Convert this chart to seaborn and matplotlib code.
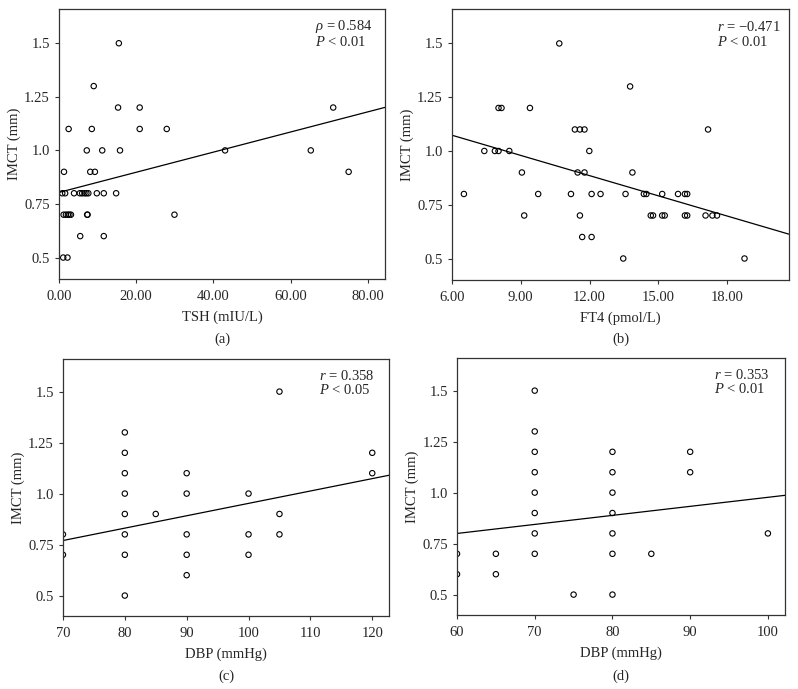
import numpy as np
import pandas as pd
import matplotlib
matplotlib.use("Agg")
import matplotlib.pyplot as plt
import seaborn as sns

# --- data ---
# (a) TSH vs IMCT
tsh = [15.5, 9.0, 15.3, 20.9, 71.0, 2.5, 8.5, 20.9, 27.9,
       7.2, 11.2, 15.8, 43.0, 65.2, 1.3, 8.1, 9.3, 75.0,
       0.85, 1.6, 3.9, 5.4, 6.0, 6.6, 7.1, 7.6, 9.8, 11.6, 14.8,
       1.2, 1.8, 2.3, 2.7, 3.1, 7.3, 7.4, 29.9,
       5.5, 11.6, 1.1, 2.2]
imct_a = [1.5, 1.3, 1.2, 1.2, 1.2, 1.1, 1.1, 1.1, 1.1,
          1.0, 1.0, 1.0, 1.0, 1.0, 0.9, 0.9, 0.9, 0.9,
          0.8, 0.8, 0.8, 0.8, 0.8, 0.8, 0.8, 0.8, 0.8, 0.8, 0.8,
          0.7, 0.7, 0.7, 0.7, 0.7, 0.7, 0.7, 0.7,
          0.6, 0.6, 0.5, 0.5]

# (b) FT4 vs IMCT
ft4 = [10.68, 13.77, 8.03, 8.16, 9.40, 11.36, 11.58, 11.78, 17.17,
       7.41, 7.87, 8.03, 8.50, 11.99, 9.05, 11.48, 11.78, 13.87,
       6.52, 9.76, 11.19, 12.09, 12.48, 13.57, 14.37, 14.48, 15.17, 15.86, 16.16, 16.26,
       9.15, 11.58, 14.67, 14.77, 15.17, 15.28, 16.16, 16.26, 17.06, 17.36, 17.56,
       11.68, 12.09, 13.47, 18.76]
imct_b = [1.5, 1.3, 1.2, 1.2, 1.2, 1.1, 1.1, 1.1, 1.1,
          1.0, 1.0, 1.0, 1.0, 1.0, 0.9, 0.9, 0.9, 0.9,
          0.8, 0.8, 0.8, 0.8, 0.8, 0.8, 0.8, 0.8, 0.8, 0.8, 0.8, 0.8,
          0.7, 0.7, 0.7, 0.7, 0.7, 0.7, 0.7, 0.7, 0.7, 0.7, 0.7,
          0.6, 0.6, 0.5, 0.5]

# (c) DBP vs IMCT
dbp_c = [70, 70, 80, 80, 80, 80, 80, 80, 80, 80, 85,
         90, 90, 90, 90, 90, 100, 100, 100, 105, 105, 105, 120, 120]
imct_c = [0.8, 0.7, 1.3, 1.2, 1.1, 1.0, 0.9, 0.8, 0.7, 0.5, 0.9,
          1.1, 1.0, 0.8, 0.7, 0.6, 1.0, 0.8, 0.7, 1.5, 0.9, 0.8, 1.2, 1.1]

# (d) DBP vs IMCT
dbp_d = [60, 60, 65, 65, 70, 70, 70, 70, 70, 70, 70, 70, 75,
         80, 80, 80, 80, 80, 80, 80, 85, 90, 90, 100]
imct_d = [0.7, 0.6, 0.7, 0.6, 1.5, 1.3, 1.2, 1.1, 1.0, 0.9, 0.8, 0.7, 0.5,
          1.2, 1.1, 1.0, 0.9, 0.8, 0.7, 0.5, 0.7, 1.2, 1.1, 0.8]

# fitted lines (intercept, slope) as printed in the figure
fit_a = (0.804, 0.0047)
fit_b = (1.261, -0.0313)
fit_c = (0.345, 0.00607)
fit_d = (0.534, 0.00443)

stats_a = ["$\\rho$ = 0.584", "$P$ < 0.01"]
stats_b = ["$r$ = \u22120.471", "$P$ < 0.01"]
stats_c = ["$r$ = 0.358", "$P$ < 0.05"]
stats_d = ["$r$ = 0.353", "$P$ < 0.01"]

sns.set_style("ticks")
plt.rcParams['font.family'] = ['Liberation Serif', 'DejaVu Serif']
plt.rcParams['mathtext.fontset'] = 'custom'
plt.rcParams['mathtext.it'] = 'Liberation Serif:italic'
plt.rcParams['mathtext.rm'] = 'Liberation Serif'
FS = 10.5

fig = plt.figure(figsize=(7.98, 6.89), dpi=100)

panels = [
    ([0.0739, 0.5951, 0.4085, 0.3919], tsh, imct_a, fit_a, stats_a, (0, 84.4),
     [0, 20, 40, 60, 80], "%.2f", "TSH (mIU/L)", "(a)", 0.507),
    ([0.5664, 0.5936, 0.4223, 0.3933], ft4, imct_b, fit_b, stats_b, (6, 20.7),
     [6, 9, 12, 15, 18], "%.2f", "FT4 (pmol/L)", "(b)", 0.507),
    ([0.0789, 0.1060, 0.4085, 0.3730], dbp_c, imct_c, fit_c, stats_c, (70, 122.7),
     [70, 80, 90, 100, 110, 120], "%d", "DBP (mmHg)", "(c)", 0.018),
    ([0.5727, 0.1074, 0.4110, 0.3730], dbp_d, imct_d, fit_d, stats_d, (60, 102.2),
     [60, 70, 80, 90, 100], "%d", "DBP (mmHg)", "(d)", 0.018),
]

for rect, xs, ys, fit, stats, xlim, xt, fmt, xlabel, tag, ty in panels:
    ax = fig.add_axes(rect)
    df = pd.DataFrame({"x": xs, "y": ys})
    sns.scatterplot(data=df, x="x", y="y", ax=ax, s=15, facecolor="none",
                    edgecolor="black", linewidth=0.8, clip_on=True)
    ax.axline((0, fit[0]), slope=fit[1], color="black", lw=0.9)
    ax.set_xlim(*xlim)
    ax.set_ylim(0.40, 1.66)
    ax.set_xticks(xt)
    ax.set_xticklabels([fmt % v for v in xt], fontsize=FS)
    ax.set_yticks([0.5, 0.75, 1.0, 1.25, 1.5])
    ax.set_yticklabels(["0.5", "0.75", "1.0", "1.25", "1.5"], fontsize=FS)
    ax.set_xlabel(xlabel, fontsize=FS, labelpad=5)
    ax.set_ylabel("IMCT (mm)", fontsize=FS, labelpad=2)
    ax.tick_params(length=3, width=0.8, color="#333333")
    ax.tick_params(axis="x", pad=5)
    for sp in ax.spines.values():
        sp.set_visible(True)
        sp.set_linewidth(0.9)
        sp.set_color("#333333")
    ax.text(0.785, 0.935, stats[0], transform=ax.transAxes, fontsize=FS, va="center")
    ax.text(0.785, 0.878, stats[1], transform=ax.transAxes, fontsize=FS, va="center")
    fig.text(rect[0] + rect[2] / 2, ty, tag, ha="center", va="center", fontsize=FS)

fig.savefig("out.png", dpi=100)
